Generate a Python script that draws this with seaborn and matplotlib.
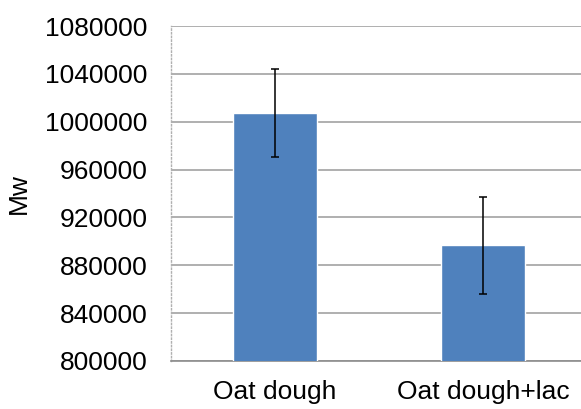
import numpy as np
import pandas as pd
import matplotlib
matplotlib.use("Agg")
import matplotlib.pyplot as plt
import seaborn as sns

categories = ["Oat dough", "Oat dough+lac"]
mw_values = [1007000, 896700]
mw_errors = [36700, 40300]
y_ticks = list(range(800000, 1080001, 40000))

df = pd.DataFrame({"sample": categories, "Mw": mw_values})

sns.set_style("white")
plt.rcParams["font.family"] = ["Liberation Sans", "DejaVu Sans"]
plt.rcParams["text.color"] = "black"
plt.rcParams["xtick.labelcolor"] = "black"
plt.rcParams["ytick.labelcolor"] = "black"
plt.rcParams["axes.labelcolor"] = "black"

fig = plt.figure(figsize=(5.81, 4.09), dpi=100)
ax = fig.add_axes([171 / 581, 48 / 409, 416 / 581, 335 / 409])

sns.barplot(data=df, x="sample", y="Mw", color="#4F81BD", saturation=1,
            width=0.4, errorbar=None, ax=ax, zorder=3)
ax.errorbar(x=np.arange(len(categories)), y=mw_values, yerr=mw_errors,
            fmt="none", ecolor="black", elinewidth=1.1, capsize=3,
            capthick=1.1, zorder=4)

ax.set_ylim(800000, 1080000)
ax.set_xlim(-0.5, 1.5)
ax.set_yticks(y_ticks)
ax.set_yticklabels([str(t) for t in y_ticks])
ax.yaxis.grid(True, color="#9a9a9a", linewidth=1.1, zorder=0)
ax.set_axisbelow(True)

for side in ["top", "right"]:
    ax.spines[side].set_visible(False)
ax.spines["left"].set_color("#b0b0b0")
ax.spines["left"].set_linestyle(":")
ax.spines["left"].set_linewidth(1.0)
ax.spines["bottom"].set_color("#8c8c8c")
ax.spines["bottom"].set_linewidth(1.2)

ax.tick_params(axis="y", direction="in", length=5, color="#8c8c8c",
               labelsize=19, pad=17)
ax.tick_params(axis="x", length=0, labelsize=19, pad=14)
ax.set_xlabel("")
ax.set_ylabel("Mw", fontsize=19, labelpad=10)

plt.savefig("out.png", dpi=100)
